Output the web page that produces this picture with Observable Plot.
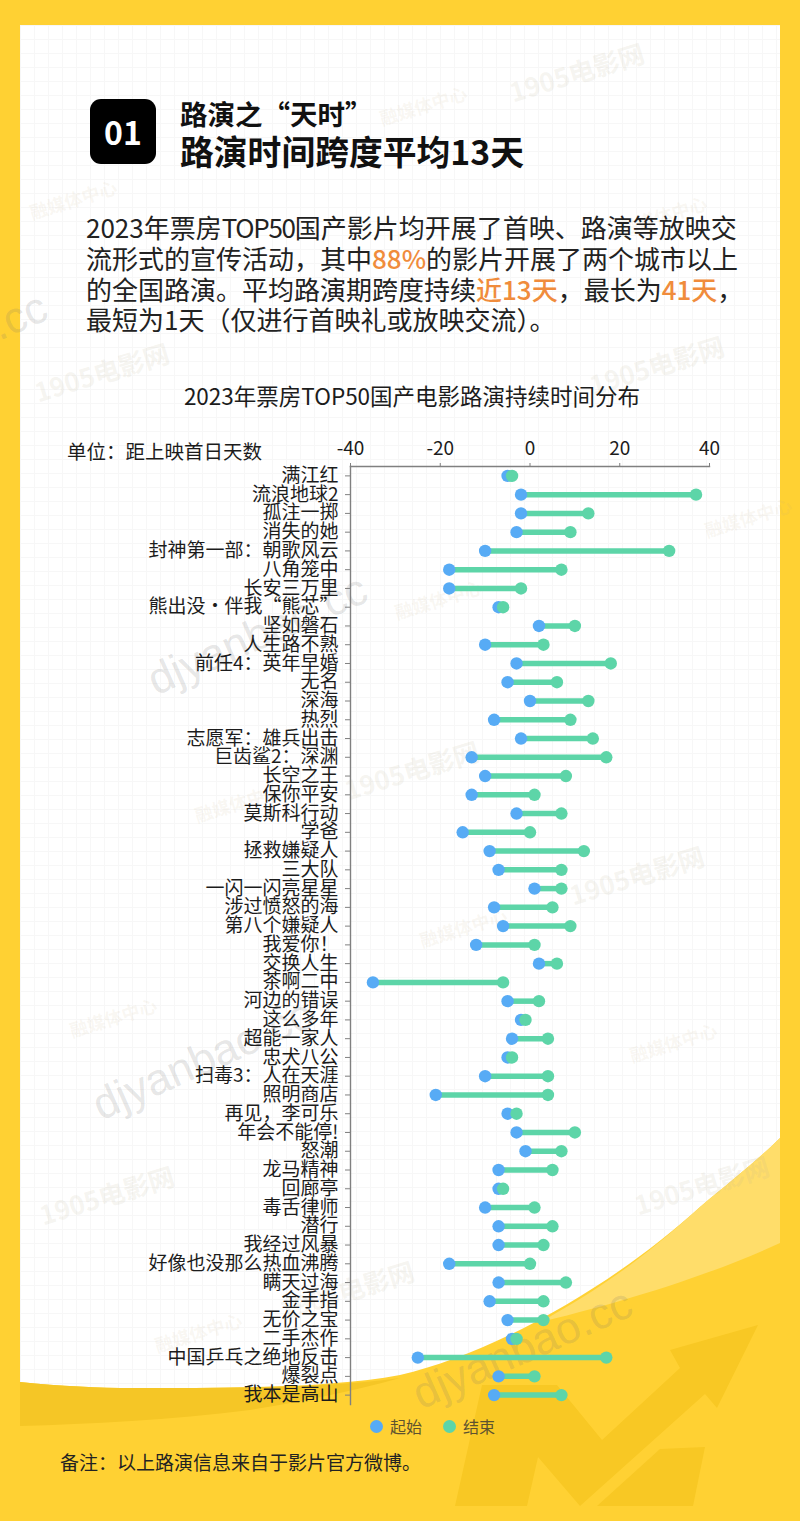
<!DOCTYPE html>
<html lang="zh-CN">
<head>
<meta charset="utf-8">
<title>2023年票房TOP50国产电影路演持续时间分布</title>
<script src="https://cdn.jsdelivr.net/npm/d3@7"></script>
<script src="https://cdn.jsdelivr.net/npm/@observablehq/plot@0.6"></script>
<style>
html,body{margin:0;padding:0;background:#FFD133;}
body{position:relative;width:800px;height:1521px;overflow:hidden;font-family:"Noto Sans CJK SC","Noto Sans",sans-serif;color:#1c1c1c;}
.abs{position:absolute;white-space:nowrap;}
#bg{position:absolute;left:0;top:0;}
#grid{position:absolute;left:20px;top:25px;width:760px;height:1370px;
 background-image:linear-gradient(#f7f7f7 1px,transparent 1px),linear-gradient(90deg,#f7f7f7 1px,transparent 1px);background-size:14px 14px;}
#badge{left:90px;top:99px;width:66px;height:65px;border-radius:11px;background:#000;color:#fff;font-weight:700;font-size:32px;line-height:65px;text-align:center;}
#h1{left:180px;top:93px;font-size:27.5px;font-weight:700;line-height:40px;color:#111;}
#h2{left:180px;top:126px;font-size:33.8px;font-weight:700;line-height:50px;color:#111;}
#para{left:86px;top:212px;font-size:26px;line-height:30.8px;color:#222;}
#para b{font-weight:500;color:#F08C3C;}
#para i{font-style:normal;letter-spacing:-1.3px;}
#ctitle{left:0;width:800px;top:379px;text-align:center;font-size:22.5px;line-height:32px;margin-left:12px;}
#unit{left:67px;top:437px;font-size:19.5px;line-height:28px;}
#legend span.d{position:absolute;width:13px;height:13px;border-radius:50%;}
#legend span.t{position:absolute;font-size:16px;line-height:24px;color:#5d5230;}
#note{left:60px;top:1448px;font-size:19px;line-height:28px;color:#222;}
#plot{position:absolute;left:0;top:430px;}
.wm{position:absolute;white-space:nowrap;height:0;line-height:0;transform-origin:left center;}
.wm.a{font-size:26px;font-weight:700;color:rgba(190,175,150,.14);transform:rotate(-17deg);}
.wm.c{font-size:18px;font-weight:700;color:rgba(200,175,130,.11);transform:rotate(-17deg);}
.wm.b{font-size:44px;color:rgba(110,110,110,.18);font-family:"Liberation Sans",sans-serif;transform:rotate(-24deg);}
</style>
</head>
<body>
<svg id="bg" width="800" height="1521" viewBox="0 0 800 1521">
  <rect x="0" y="0" width="800" height="1521" fill="#FFD133"/>
  <rect x="20" y="25" width="760" height="1370" fill="#fff"/>
</svg>
<div id="grid"></div>
<svg id="bg2" class="abs" style="left:0;top:0" width="800" height="1521" viewBox="0 0 800 1521">
  <path d="M20 1382 C60 1386 100 1388 133 1388 C230 1388 330 1388 400 1375 C500 1352 620 1280 700 1207 C730 1182 760 1158 780 1138 L780 1400 L20 1400 Z" fill="#FFD133"/>
  <path d="M780 1138 C760 1158 730 1182 700 1207 C640 1262 590 1295 540 1322 C600 1308 700 1280 780 1243 Z" fill="#FFDD6A"/>
  <path d="M20 1382 C60 1386 100 1388 133 1388 C230 1388 330 1388 400 1378 C350 1392 300 1402 250 1410 C170 1420 90 1424 20 1426 Z" fill="#F5C626"/>
  <path d="M455 1506 L482 1385 L557 1385 L602 1440 L680 1368 L670 1350 L758 1325 L717 1408 L705 1394 L580 1506 L538 1457 L527 1506 Z" fill="#F8C824"/>
  <path d="M597 1506 L660 1449 L705 1447 L693 1506 Z" fill="#F8C824"/>
</svg>
<div class="wm a" style="left:510px;top:92px">1905电影网</div>
<div class="wm a" style="left:35px;top:392px">1905电影网</div>
<div class="wm a" style="left:590px;top:385px">1905电影网</div>
<div class="wm a" style="left:345px;top:790px">1905电影网</div>
<div class="wm a" style="left:570px;top:895px">1905电影网</div>
<div class="wm a" style="left:40px;top:1215px">1905电影网</div>
<div class="wm a" style="left:280px;top:1310px">1905电影网</div>
<div class="wm a" style="left:635px;top:1205px">1905电影网</div>
<div class="wm c" style="left:380px;top:118px">融媒体中心</div>
<div class="wm c" style="left:30px;top:212px">融媒体中心</div>
<div class="wm c" style="left:620px;top:228px">融媒体中心</div>
<div class="wm c" style="left:395px;top:612px">融媒体中心</div>
<div class="wm c" style="left:705px;top:530px">融媒体中心</div>
<div class="wm c" style="left:195px;top:815px">融媒体中心</div>
<div class="wm c" style="left:420px;top:940px">融媒体中心</div>
<div class="wm c" style="left:70px;top:1030px">融媒体中心</div>
<div class="wm c" style="left:630px;top:1055px">融媒体中心</div>
<div class="wm c" style="left:155px;top:1345px">融媒体中心</div>
<div class="wm b" style="left:150px;top:682px">djyanbao.cc</div>
<div class="wm b" style="left:95px;top:1107px">djyanbao.cc</div>
<div class="wm b" style="left:415px;top:1396px">djyanbao.cc</div>
<div class="wm b" style="left:-170px;top:400px">djyanbao.cc</div>

<div id="badge" class="abs">01</div>
<div id="h1" class="abs">路演之“天时”</div>
<div id="h2" class="abs">路演时间跨度平均13天</div>
<div id="para" class="abs">2023年票房<i>TOP50</i>国产影片均开展了首映、路演等放映交<br>流形式的宣传活动，其中<b>88%</b>的影片开展了两个城市以上<br>的全国路演。平均路演期跨度持续<b>近13天</b>，最长为<b>41天</b>，<br>最短为1天（仅进行首映礼或放映交流）。</div>
<div id="ctitle" class="abs">2023年票房TOP50国产电影路演持续时间分布</div>
<div id="unit" class="abs">单位：距上映首日天数</div>
<div id="plot"></div>
<div id="legend">
  <span class="d" style="left:370px;top:1420px;background:#57ABF5"></span><span class="t" style="left:390px;top:1414px">起始</span>
  <span class="d" style="left:443px;top:1420px;background:#5DD5A8"></span><span class="t" style="left:463px;top:1414px">结束</span>
</div>
<div id="note" class="abs">备注：以上路演信息来自于影片官方微博。</div>

<script>
const films = ["满江红","流浪地球2","孤注一掷","消失的她","封神第一部：朝歌风云","八角笼中","长安三万里","熊出没·伴我“熊芯”","坚如磐石","人生路不熟","前任4：英年早婚","无名","深海","热烈","志愿军：雄兵出击","巨齿鲨2：深渊","长空之王","保你平安","莫斯科行动","学爸","拯救嫌疑人","三大队","一闪一闪亮星星","涉过愤怒的海","第八个嫌疑人","我爱你！","交换人生","茶啊二中","河边的错误","这么多年","超能一家人","忠犬八公","扫毒3：人在天涯","照明商店","再见，李可乐","年会不能停!","怒潮","龙马精神","回廊亭","毒舌律师","潜行","我经过风暴","好像也没那么热血沸腾","瞒天过海","金手指","无价之宝","二手杰作","中国乒乓之绝地反击","爆裂点","我本是高山"];
const starts = [-5,-2,-2,-3,-10,-18,-18,-7,2,-10,-3,-5,0,-8,-2,-13,-10,-13,-3,-15,-9,-7,1,-8,-6,-12,2,-35,-5,-2,-4,-5,-10,-21,-5,-3,-1,-7,-7,-10,-7,-7,-18,-7,-9,-5,-4,-25,-7,-8];
const ends = [-4,37,13,9,31,7,-2,-6,10,3,18,6,13,9,14,17,8,1,7,0,12,7,7,5,9,1,6,-6,2,-1,4,-4,4,4,-3,10,7,5,-6,1,5,3,0,8,3,3,-3,17,1,7];
const xTicks = [-40,-20,0,20,40];
const colorStart = "#57ABF5", colorEnd = "#5DD5A8", axisColor = "#808080";

const rows = films.map((name,i)=>({name,start:starts[i],end:ends[i]}));
const chart = Plot.plot({
  width: 800, height: 974,
  marginLeft: 350, marginRight: 91, marginTop: 36, marginBottom: 0,
  style: {background:"transparent", fontFamily:'"Noto Sans CJK SC","Noto Sans",sans-serif', overflow:"visible"},
  x: {domain:[-40,40], axis:null},
  y: {type:"band", domain:films, padding:0, round:false, axis:null},
  marks: [
    Plot.frame({anchor:"top", stroke:axisColor, strokeWidth:1.4}),
    Plot.frame({anchor:"left", stroke:axisColor, strokeWidth:1.4}),
    Plot.axisX({anchor:"top", ticks:xTicks, tickSize:4, tickPadding:8, tickFormat:d=>String(d), label:null, fontSize:19, stroke:axisColor, color:"#1c1c1c"}),
    Plot.axisY({anchor:"left", tickSize:5, tickPadding:7, label:null, fontSize:19, stroke:axisColor, color:"#1c1c1c"}),
    Plot.ruleY(rows,{y:"name",x1:"start",x2:"end",stroke:colorEnd,strokeWidth:5.5}),
    Plot.dot(rows,{x:"start",y:"name",r:6.2,fill:colorStart}),
    Plot.dot(rows,{x:"end",y:"name",r:6.2,fill:colorEnd})
  ]
});
document.getElementById("plot").append(chart);
</script>
</body>
</html>
